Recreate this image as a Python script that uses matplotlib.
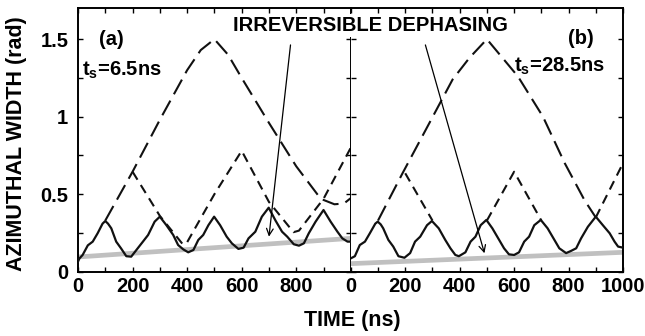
import numpy as np
import matplotlib
matplotlib.use("Agg")
import matplotlib.pyplot as plt
from matplotlib.ticker import MultipleLocator, FuncFormatter

plt.rcParams['font.family'] = ['Liberation Sans', 'DejaVu Sans']
plt.rcParams['font.weight'] = 'bold'
plt.rcParams['mathtext.fontset'] = 'custom'
plt.rcParams['mathtext.bf'] = 'Liberation Sans:bold'
plt.rcParams['mathtext.rm'] = 'Liberation Sans:bold'

# ---------------- data (a) ----------------
a_solid_t = [0, 5, 17, 36, 54, 72, 90, 100, 110, 122, 140, 158, 177, 195, 214, 238, 257, 281, 300,
             324, 349, 367, 386, 404, 423, 441, 459, 478, 499, 521, 545, 564, 588, 607, 625, 650,
             674, 699, 724, 748, 767, 791, 810, 828, 846, 871, 900, 926, 951, 969, 988, 1000]
a_solid_v = [0.065, 0.085, 0.108, 0.17, 0.194, 0.248, 0.31, 0.327, 0.31, 0.28, 0.194, 0.15, 0.10,
             0.097, 0.14, 0.194, 0.237, 0.323, 0.355, 0.30, 0.237, 0.172, 0.144, 0.125, 0.14, 0.205,
             0.237, 0.30, 0.355, 0.30, 0.226, 0.183, 0.147, 0.155, 0.215, 0.258, 0.355, 0.413, 0.33,
             0.258, 0.226, 0.177, 0.168, 0.183, 0.248, 0.323, 0.398, 0.323, 0.258, 0.215, 0.194, 0.194]
a_long_t = [100, 200, 300, 400, 450, 500, 550, 600, 700, 800, 890, 940, 975, 1000]
a_long_v = [0.33, 0.645, 0.98, 1.30, 1.43, 1.5, 1.40, 1.25, 0.96, 0.68, 0.47, 0.435, 0.44, 0.475]
a_short_t = [200, 300, 385, 400, 500, 600, 700, 790, 810, 900, 1000]
a_short_v = [0.645, 0.36, 0.175, 0.19, 0.50, 0.78, 0.45, 0.255, 0.265, 0.47, 0.80]
a_grey_t = [0, 1000]
a_grey_v = [0.095, 0.215]

# ---------------- data (b) ----------------
b_solid_t = [0, 15, 33, 52, 70, 90, 99, 110, 119, 138, 156, 175, 197, 218, 236, 255, 280, 298,
             323, 347, 366, 384, 397, 421, 440, 458, 477, 498, 520, 545, 563, 581, 600, 618, 637,
             655, 674, 698, 723, 748, 766, 791, 809, 828, 846, 871, 900, 926, 951, 969, 982, 1000]
b_solid_v = [0.086, 0.10, 0.172, 0.194, 0.248, 0.31, 0.323, 0.305, 0.28, 0.205, 0.162, 0.10, 0.09,
             0.12, 0.194, 0.226, 0.30, 0.327, 0.28, 0.205, 0.151, 0.108, 0.10, 0.125, 0.194, 0.226,
             0.30, 0.334, 0.28, 0.205, 0.151, 0.112, 0.108, 0.125, 0.194, 0.226, 0.30, 0.334, 0.28,
             0.205, 0.151, 0.12, 0.134, 0.151, 0.215, 0.29, 0.355, 0.30, 0.248, 0.194, 0.162, 0.155]
b_long_t = [100, 190, 295, 374, 436, 500, 614, 706, 786, 859, 900]
b_long_v = [0.33, 0.635, 0.98, 1.24, 1.38, 1.5, 1.26, 1.0, 0.70, 0.46, 0.35]
b_short_t = [200, 300, np.nan, 500, 600, 700, np.nan, 900, 1000]
b_short_v = [0.635, 0.33, np.nan, 0.33, 0.645, 0.33, np.nan, 0.35, 0.70]
b_grey_t = [0, 1000]
b_grey_v = [0.052, 0.125]

panel_labels = ["(a)", "(b)"]
ts_labels = [r"$\mathbf{t_s}$=6.5ns", r"$\mathbf{t_s}$=28.5ns"]

W, H = 645, 336
fig = plt.figure(figsize=(W / 100, H / 100), dpi=100)
mid = 350.8
ax_a = fig.add_axes([78 / W, 1 - 271.7 / H, (mid - 78) / W, 263.5 / H])
ax_b = fig.add_axes([mid / W, 1 - 271.7 / H, (623 - mid) / W, 263.5 / H])

grey = '#c0c0c0'
for ax, st, sv, lt, lv, sht, shv, gt, gv in [
        (ax_a, a_solid_t, a_solid_v, a_long_t, a_long_v, a_short_t, a_short_v, a_grey_t, a_grey_v),
        (ax_b, b_solid_t, b_solid_v, b_long_t, b_long_v, b_short_t, b_short_v, b_grey_t, b_grey_v)]:
    ax.plot(gt, gv, color=grey, lw=3.4, solid_capstyle='butt', zorder=1)
    ax.plot(st, sv, color='#111111', lw=1.6, zorder=3)
    ax.plot(lt, lv, color='#111111', lw=1.5, dashes=(8, 3.5), zorder=2)
    ax.plot(sht, shv, color='#111111', lw=1.5, dashes=(4.5, 3.0), zorder=2)
    ax.set_xlim(0, 1000)
    ax.set_ylim(0, 1.7)
    ax.xaxis.set_major_locator(MultipleLocator(200))
    ax.xaxis.set_minor_locator(MultipleLocator(100))
    ax.yaxis.set_major_locator(MultipleLocator(0.5))
    ax.yaxis.set_minor_locator(MultipleLocator(0.25))
    ax.tick_params(which='both', direction='in', top=True, right=True, length=3.6, width=1.0)
    ax.tick_params(axis='x', labelsize=14.5, pad=4)
    ax.tick_params(axis='y', labelsize=14.5, pad=7)
    for s in ax.spines.values():
        s.set_linewidth(1.4)
    for lab in ax.get_xticklabels() + ax.get_yticklabels():
        lab.set_fontweight('bold')

ax_b.spines['left'].set_visible(False)

ax_a.xaxis.set_major_formatter(FuncFormatter(lambda x, p: '' if x >= 999 else f'{x:.0f}'))
ax_a.yaxis.set_major_formatter(FuncFormatter(lambda y, p: '0' if y == 0 else ('1' if y == 1 else f'{y:g}')))
ax_b.yaxis.set_major_formatter(FuncFormatter(lambda y, p: ''))
ax_b.xaxis.set_major_formatter(FuncFormatter(lambda x, p: f'{x:.0f}'))

ax_a.text(121, 1.495, panel_labels[0], fontsize=14.5, fontweight='bold', ha='center', va='center')
ax_a.text(15, 1.263, ts_labels[0], fontsize=14.5, fontweight='bold', ha='left', va='baseline')
ax_b.text(845, 1.507, panel_labels[1], fontsize=14.5, fontweight='bold', ha='center', va='center')
ax_b.text(601, 1.29, ts_labels[1], fontsize=14.5, fontweight='bold', ha='left', va='baseline')

fig.text(370 / W, 1 - 25.7 / H, "IRREVERSIBLE DEPHASING", fontsize=14.5, fontweight='bold',
         ha='center', va='center', zorder=10,
         bbox=dict(facecolor='white', edgecolor='none', pad=1.5))
fig.text(352 / W, 0.045, "TIME (ns)", fontsize=15.5, fontweight='bold', ha='center', va='center')
fig.text(16.7 / W, 0.573, "AZIMUTHAL WIDTH (rad)", fontsize=15.5, fontweight='bold', rotation=90,
         ha='center', va='center')

arrow_kw = dict(arrowstyle='->', color='black', lw=0.9, mutation_scale=12, shrinkA=0, shrinkB=0)
ax_a.annotate('', xy=(700, 0.226), xytext=(779, 1.463), arrowprops=arrow_kw, annotation_clip=False)
ax_b.annotate('', xy=(491, 0.119), xytext=(274, 1.463), arrowprops=arrow_kw, annotation_clip=False)

fig.savefig('out.png', dpi=100)
